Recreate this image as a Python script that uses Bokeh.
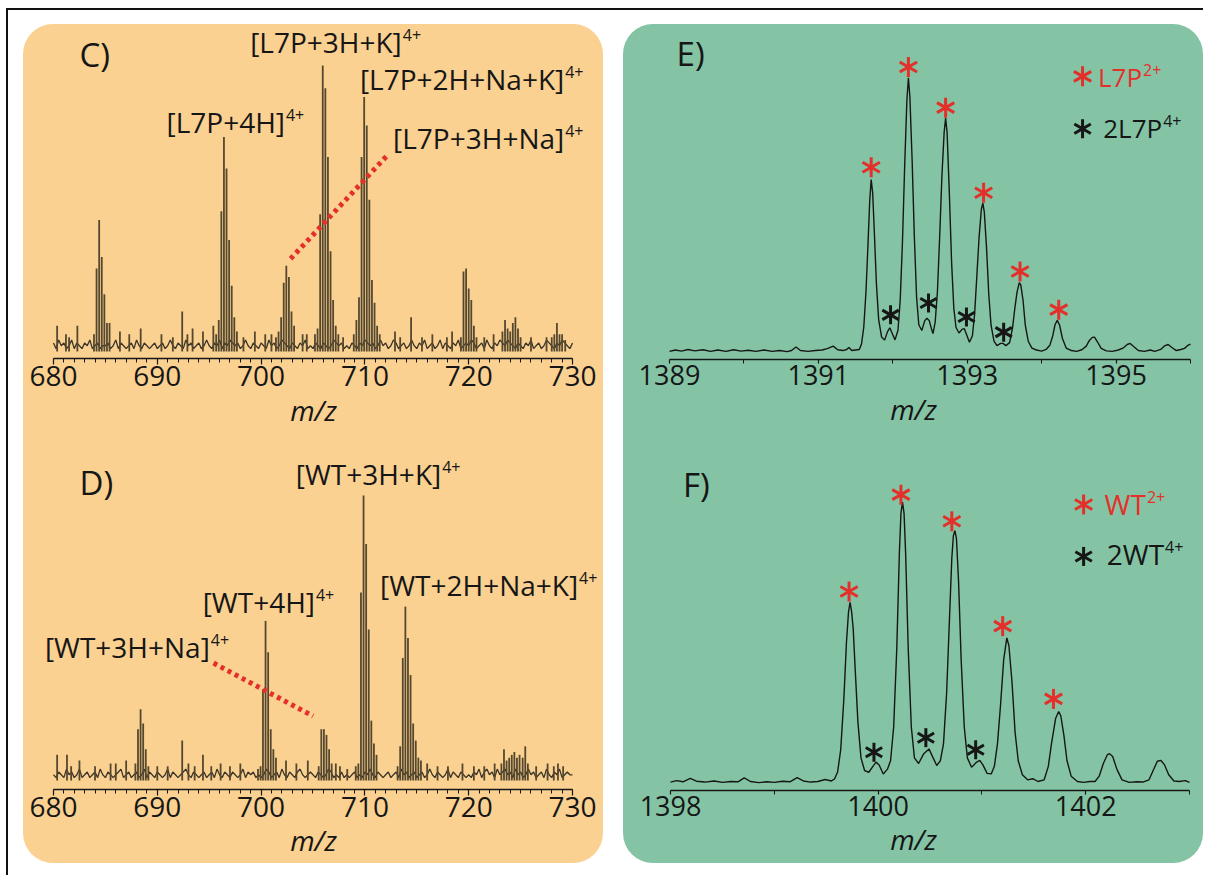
import numpy as np
from bokeh.plotting import figure
from bokeh.layouts import column, row
from bokeh.models import Spacer, Range1d, FixedTicker, Label
from bokeh.embed import file_html
from bokeh.resources import INLINE

# ---------------- data ----------------
# Panel C: [L7P] 4+ ions (stick peaks: m/z, relative intensity)
C_MZ = [683.90, 684.15, 684.40, 684.65, 684.90, 685.15, 685.40,
        695.67, 695.92, 696.17, 696.42, 696.67, 696.92, 697.17, 697.42, 697.67,
        701.43, 701.68, 701.93, 702.18, 702.43, 702.68, 702.93, 703.18,
        705.19, 705.44, 705.69, 705.94, 706.19, 706.44, 706.69, 706.94, 707.19, 707.44,
        708.93, 709.18, 709.43, 709.68, 709.93, 710.18, 710.43, 710.68, 710.93, 711.18, 711.43,
        719.25, 719.50, 719.75, 720.00, 720.25, 720.50, 720.75,
        723.25, 723.50, 723.75, 724.00, 724.25, 724.50, 724.75, 725.00,
        728.25, 728.50, 728.75, 729.00, 729.30,
        680.35, 681.20, 681.50, 682.30, 686.40, 687.30, 688.40, 690.40, 691.50, 692.40,
        692.90, 693.40, 694.40, 695.40, 698.30, 699.40, 700.40, 701.00, 704.00, 704.40,
        707.90, 712.90, 713.40, 714.45, 715.50, 716.50, 717.90, 718.40, 721.50, 722.40,
        726.00, 727.50, 728.00]
C_INT = [6, 29, 46, 33, 20, 10, 10,
         6, 11, 49, 75, 64, 39, 23, 12, 7,
         5, 7, 12, 24, 30, 26, 14, 9,
         6, 8, 48, 100, 92, 68, 35, 18, 9, 6,
         6, 11, 19, 68, 89, 79, 53, 25, 17, 9, 6,
         5, 28, 29, 22, 18, 9, 5,
         7, 11, 8, 7, 10, 12, 8, 5,
         6, 10, 6, 6, 4,
         9, 6, 5, 9, 7, 6, 8, 6, 5, 14,
         6, 8, 7, 9, 5, 7, 6, 6, 6, 6,
         5, 7, 5, 12, 5, 6, 5, 7, 5, 6,
         5, 5, 5]
C_NOISE = [3, 1, 4, 2, 3, 1, 2, 4, 1, 3, 2, 1, 3, 2, 4, 1, 2, 3, 1, 2,
           2, 3, 1, 2, 4, 1, 3, 2, 1, 2, 3, 1, 4, 2, 1, 3, 2, 1, 2, 3,
           1, 2, 3, 1, 2, 4, 2, 1, 3, 2, 1, 4, 2, 3, 1, 2, 3, 1, 2, 4,
           2, 1, 3, 2, 4, 1, 3, 2, 4, 3, 2, 3, 1, 2, 4, 2, 1, 3, 2, 1,
           3, 2, 1, 4, 2, 3, 1, 2, 4, 3, 2, 1, 3, 2, 1, 3, 2, 4, 1, 2,
           1, 3, 2, 1, 3, 2, 1, 2, 4, 3, 2, 3, 1, 2, 1, 3, 2, 1, 3, 2,
           4, 3, 2, 3, 1, 2, 4, 2, 3, 1, 2, 4, 3, 1, 2, 3, 1, 2, 4, 2,
           1, 3, 2, 4, 1, 2, 3, 1, 2, 4, 1, 3, 2, 1, 3, 2, 4, 1, 2, 3,
           2, 4, 3, 1, 2, 3, 1, 4, 2, 1, 3, 2, 4, 3, 2, 4, 3, 2, 1, 3,
           2, 1, 3, 2, 4, 1, 2, 3, 1, 2, 4, 3, 2, 1, 3, 2, 4, 3, 2, 1, 3]

# Panel D: [WT] 4+ ions
D_MZ = [687.89, 688.14, 688.39, 688.64, 688.89, 689.14,
        692.40,
        699.70, 699.95, 700.18, 700.43, 700.68, 700.93, 701.18, 701.43,
        705.55, 705.80, 706.05, 706.30, 706.55, 706.80,
        709.12, 709.37, 709.62, 709.87, 710.12, 710.37, 710.62, 710.87, 711.12,
        713.15, 713.40, 713.65, 713.90, 714.15, 714.40, 714.65, 714.90, 715.15, 715.40,
        723.15, 723.40, 723.65, 723.90, 724.15, 724.40, 724.65, 724.90, 725.20, 725.45, 725.70,
        726.50, 727.60, 728.20, 728.60, 729.10,
        680.35, 681.30, 681.70, 682.50, 684.00, 685.50, 686.00, 687.00, 690.00, 691.00,
        693.00, 693.60, 694.40, 695.20, 696.10, 697.00, 698.00, 702.40, 703.40, 704.50,
        707.20, 707.60, 708.30, 716.00, 717.00, 718.00, 719.40, 720.50, 721.50, 722.50]
D_INT = [6, 18, 25, 20, 11, 5,
         14,
         4, 5, 32, 56, 45, 18, 11, 8,
         5, 18, 18, 16, 11, 6,
         5, 6, 66, 100, 83, 53, 21, 13, 9,
         5, 12, 43, 61, 50, 37, 20, 14, 8, 7,
         6, 11, 7, 8, 9, 10, 8, 9, 8, 12, 6,
         5, 6, 5, 6, 5,
         9, 9, 5, 7, 5, 6, 6, 7, 5, 5,
         6, 5, 9, 5, 6, 5, 6, 7, 6, 7,
         6, 5, 4, 6, 5, 5, 6, 5, 5, 6]
D_NOISE = [2, 1, 3, 2, 1, 4, 2, 3, 1, 2, 4, 1, 2, 3, 1, 2, 3, 1, 4, 2,
           1, 3, 2, 1, 2, 3, 4, 1, 2, 3, 1, 2, 3, 1, 2, 4, 1, 3, 2, 1,
           3, 2, 1, 2, 4, 1, 3, 2, 1, 2, 3, 4, 2, 1, 3, 2, 1, 2, 3, 1,
           2, 3, 1, 4, 2, 1, 3, 2, 1, 3, 2, 1, 2, 4, 1, 3, 2, 3, 1, 2,
           1, 2, 4, 3, 1, 2, 3, 1, 4, 2, 1, 3, 2, 1, 3, 4, 2, 1, 2, 3,
           2, 1, 3, 2, 1, 2, 4, 3, 1, 2, 1, 3, 1, 2, 1, 2, 3, 1, 2, 1,
           3, 2, 4, 2, 1, 3, 2, 1, 2, 3, 1, 2, 3, 1, 4, 2, 3, 1, 2, 3,
           1, 2, 3, 1, 2, 4, 2, 1, 3, 2, 1, 2, 4, 1, 3, 2, 1, 3, 2, 1,
           2, 1, 3, 2, 4, 1, 3, 4, 2, 3, 1, 4, 2, 3, 4, 2, 3, 1, 4, 2,
           3, 1, 2, 4, 2, 3, 1, 2, 3, 1, 4, 2, 1, 3, 2, 4, 1, 2, 3, 2, 2]

# Panel E: L7P 2+ profile
E_MZ = [1389.00, 1389.08, 1389.16, 1389.25, 1389.34, 1389.45, 1389.55, 1389.65, 1389.76, 1389.86,
        1389.96, 1390.06, 1390.16, 1390.27, 1390.38, 1390.48, 1390.58, 1390.64, 1390.70, 1390.76,
        1390.86, 1390.96, 1391.05, 1391.12, 1391.20, 1391.26, 1391.33, 1391.38, 1391.41, 1391.45,
        1391.50, 1391.55,
        1391.58, 1391.61, 1391.64, 1391.665, 1391.69, 1391.71, 1391.73, 1391.755, 1391.78, 1391.81,
        1391.85, 1391.89, 1391.93, 1391.96, 1391.99, 1392.03,
        1392.07, 1392.10, 1392.13, 1392.16, 1392.19, 1392.21, 1392.23, 1392.26, 1392.29, 1392.32,
        1392.35, 1392.39, 1392.43, 1392.46, 1392.49, 1392.52, 1392.54,
        1392.57, 1392.60, 1392.63, 1392.66, 1392.69, 1392.71, 1392.73, 1392.76, 1392.79, 1392.82,
        1392.85, 1392.89, 1392.93, 1392.96, 1392.99, 1393.03,
        1393.07, 1393.10, 1393.13, 1393.16, 1393.19, 1393.21, 1393.23, 1393.26, 1393.29, 1393.32,
        1393.36, 1393.40, 1393.45, 1393.48, 1393.52,
        1393.57, 1393.61, 1393.64, 1393.67, 1393.70, 1393.72, 1393.75, 1393.78, 1393.82, 1393.87,
        1393.93, 1394.00, 1394.06,
        1394.11, 1394.15, 1394.18, 1394.21, 1394.24, 1394.28, 1394.33, 1394.40, 1394.47, 1394.54,
        1394.60, 1394.64, 1394.68, 1394.71, 1394.75, 1394.80, 1394.87, 1394.95, 1395.03,
        1395.10, 1395.15, 1395.19, 1395.24, 1395.30, 1395.38, 1395.46, 1395.52,
        1395.60, 1395.65, 1395.70, 1395.75, 1395.81, 1395.87, 1395.92, 1395.97, 1396.00]
E_INT = [0.3, 0.8, 0.4, 1.0, 0.5, 0.9, 0.3, 0.8, 0.3, 0.9,
         0.4, 0.7, 0.3, 0.8, 0.3, 0.6, 0.2, 0.6, 1.9, 0.6,
         0.3, 0.6, 0.8, 1.3, 2.2, 0.9, 0.6, 1.0, 1.7, 0.6,
         0.8, 1.0,
         3, 9, 22, 38, 55, 62.9, 58, 42, 25, 12,
         5.5, 4.4, 7.5, 8.9, 7, 4.5,
         8, 19, 40, 68, 92, 100, 93, 70, 42, 20,
         10, 7.9, 11.5, 12.4, 11.5, 8.5, 6.8,
         11, 22, 42, 64, 80, 85.3, 80, 58, 33, 16,
         9, 7, 8.3, 8.6, 6.5, 3.6,
         6, 14, 28, 42, 52, 54.3, 51, 38, 21, 10,
         4, 2.4, 3.2, 3.2, 2.4,
         3.5, 9, 16, 22, 25.3, 24.5, 19, 10, 4, 1.5,
         0.8, 0.4, 1.0,
         2.5, 6, 10, 11.6, 10, 5, 1.5, 0.6, 0.3, 0.9,
         2.2, 4.2, 5.4, 5.5, 3.8, 1.4, 0.5, 0.3, 0.8,
         1.6, 2.8, 3.2, 2.0, 0.6, 0.3, 0.8, 0.3,
         1.0, 2.3, 2.8, 1.7, 0.6, 1.0, 1.4, 2.6, 2.9]
E_RED_MZ = [1391.71, 1392.21, 1392.71, 1393.22, 1393.71, 1394.23]
E_RED_INT = [67.4, 103.9, 89.1, 58.1, 29.4, 15.5]
E_BLK_MZ = [1391.97, 1392.48, 1392.99, 1393.49]
E_BLK_INT = [13.6, 17.9, 12.8, 7.3]

# Panel F: WT 2+ profile
F_MZ = [1398.00, 1398.06, 1398.12, 1398.19, 1398.25, 1398.33, 1398.42, 1398.50, 1398.58, 1398.65,
        1398.71, 1398.77, 1398.85, 1398.93, 1399.00, 1399.08, 1399.15, 1399.22, 1399.28, 1399.35,
        1399.42, 1399.49, 1399.55, 1399.58,
        1399.61, 1399.64, 1399.67, 1399.695, 1399.715, 1399.73, 1399.745, 1399.76, 1399.78, 1399.805,
        1399.835, 1399.87, 1399.91, 1399.95, 1399.98, 1400.01, 1400.05, 1400.09,
        1400.12, 1400.15, 1400.18, 1400.205, 1400.22, 1400.235, 1400.25, 1400.265, 1400.29, 1400.32,
        1400.35, 1400.39, 1400.44, 1400.49, 1400.53, 1400.565, 1400.60,
        1400.63, 1400.66, 1400.685, 1400.71, 1400.725, 1400.74, 1400.755, 1400.775, 1400.80, 1400.83,
        1400.86, 1400.90, 1400.95, 1400.98, 1401.01, 1401.05, 1401.09,
        1401.12, 1401.15, 1401.18, 1401.21, 1401.24, 1401.26, 1401.29, 1401.32, 1401.35, 1401.39,
        1401.44, 1401.49, 1401.54,
        1401.60, 1401.64, 1401.67, 1401.71, 1401.74, 1401.76, 1401.79, 1401.82, 1401.86, 1401.92,
        1401.98, 1402.04,
        1402.09, 1402.13, 1402.17, 1402.21, 1402.23, 1402.26, 1402.30, 1402.35, 1402.42, 1402.49, 1402.55,
        1402.61, 1402.65, 1402.69, 1402.725, 1402.76, 1402.80, 1402.85, 1402.90, 1402.96, 1403.00]
F_INT = [0.4, 0.9, 0.5, 1.7, 0.7, 0.4, 0.8, 0.3, 0.6, 0.5,
         1.9, 0.6, 0.2, 0.5, 0.3, 0.7, 0.5, 2.0, 0.8, 0.4,
         0.6, 1.3, 0.8, 1.5,
         4, 12, 30, 50, 61, 64.4, 61, 55, 40, 22,
         9, 4.5, 3.9, 6, 7.5, 6.5, 3.3, 5,
         8, 20, 48, 82, 96, 100, 96, 82, 48, 20,
         9, 7, 10.5, 12.2, 9, 6.3, 8,
         14, 32, 56, 80, 88, 89.9, 87, 72, 44, 20,
         9, 5.7, 7.5, 8.1, 6.5, 3.5, 3.3,
         6, 14, 28, 44, 51.7, 49, 36, 18, 8, 3,
         1.2, 1.6, 0.6,
         1.2, 6, 14, 23, 25.5, 24, 17, 8, 2.5, 0.6,
         0.3, 0.6,
         0.6, 2.5, 7, 10.2, 10.5, 9.5, 5, 1.2, 0.3, 0.5, 0.4,
         1.2, 4.5, 7.8, 8.1, 6.5, 3, 0.8, 0.6, 0.9, 0.3]
F_RED_MZ = [1399.72, 1400.22, 1400.71, 1401.20, 1401.69]
F_RED_INT = [68.2, 102.7, 93.2, 55.9, 30.0]
F_BLK_MZ = [1399.96, 1400.46, 1400.94]
F_BLK_INT = [11.0, 16.2, 11.9]

C_TICKS = [680, 690, 700, 710, 720, 730]
E_TICKS = [1389, 1391, 1393, 1395]
E_MINOR = [1390, 1392, 1394, 1396]
F_TICKS = [1398, 1400, 1402]
F_MINOR = [1399, 1401, 1403]

C_IONS = ["[L7P+3H+K]", "[L7P+2H+Na+K]", "[L7P+4H]", "[L7P+3H+Na]"]
D_IONS = ["[WT+3H+K]", "[WT+4H]", "[WT+2H+Na+K]", "[WT+3H+Na]"]
X_TITLE = "m/z"

# ---------------- style ----------------
FONT = "Open Sans"
ORANGE = "#fad191"
GREEN = "#84c4a4"
RED = "#e3302a"
INK = "#161616"
STICK = "#55482f"


def mk_fig(xr, bounds, yr, w, h, bottom, tick_out, minor_out, label_size, title_standoff):
    p = figure(width=w, height=h, x_range=Range1d(*xr), y_range=Range1d(*yr),
               output_backend="svg", toolbar_location=None,
               min_border_left=0, min_border_right=0,
               min_border_top=0, min_border_bottom=bottom,
               background_fill_color=None, border_fill_color=None,
               outline_line_color=None)
    p.grid.visible = False
    p.yaxis.visible = False
    ax = p.xaxis[0]
    ax.bounds = bounds
    ax.axis_line_color = INK
    ax.axis_line_width = 1.6
    ax.major_tick_line_color = INK
    ax.minor_tick_line_color = INK
    ax.major_tick_line_width = 1.2
    ax.minor_tick_line_width = 1.0
    ax.major_tick_in = 0
    ax.minor_tick_in = 0
    ax.major_tick_out = tick_out
    ax.minor_tick_out = minor_out
    ax.major_label_text_font = FONT
    ax.major_label_text_color = INK
    ax.major_label_text_font_size = label_size
    ax.major_label_standoff = 1
    ax.axis_label = X_TITLE
    ax.axis_label_text_font = FONT
    ax.axis_label_text_font_style = "italic"
    ax.axis_label_text_font_size = "28px"
    ax.axis_label_text_color = INK
    ax.axis_label_standoff = title_standoff
    return p


def lab(p, x, y, text, size, color=INK, align="left", yoff=0, xoff=0):
    p.add_layout(Label(x=x, y=y, text=text, text_font=FONT,
                       text_font_size=f"{size}px", text_color=color,
                       text_align=align, text_baseline="middle",
                       x_offset=xoff, y_offset=yoff))


def ion(p, x, y, main, sup, color=INK, size=28, ssize=16):
    lab(p, x, y, main, size, color, "right")
    lab(p, x, y, sup, ssize, color, "left", yoff=7, xoff=1)


def asterisks(p, xs, ys, color, size, width):
    for ang in (np.pi / 2, np.pi / 6, -np.pi / 6):
        p.scatter(xs, ys, marker="dash", size=size, angle=ang,
                  line_color=color, line_width=width)


# ---------------- panel C ----------------
noise_x = np.arange(680, 730.001, 0.25)

pC = mk_fig((677.110, 732.987), (680, 730), (-2.45, 114.3), 580, 410, 76, 6, 4, "28px", 2)
pC.xaxis[0].ticker = FixedTicker(ticks=C_TICKS, minor_ticks=list(range(680, 731)))
pC.line(noise_x, C_NOISE, line_color="#3b3428", line_width=1.3)
pC.segment(x0=C_MZ, y0=[0] * len(C_MZ), x1=C_MZ, y1=C_INT, line_color=STICK, line_width=1.8)
pC.line([702.84, 712.07], [32.4, 68.2], line_color=RED, line_width=5, line_dash="4 4")
lab(pC, 682.5, 103.8, "C)", 33)
ion(pC, 713.55, 108.1, C_IONS[0], "4+")
ion(pC, 729.2, 95.2, C_IONS[1], "4+")
ion(pC, 702.3, 80.2, C_IONS[2], "4+")
ion(pC, 729.2, 74.7, C_IONS[3], "4+")

# ---------------- panel D ----------------
pD = mk_fig((677.110, 732.987), (680, 730), (-3.16, 121.4), 580, 429, 74, 6, 4, "28px", 1)
pD.xaxis[0].ticker = FixedTicker(ticks=C_TICKS, minor_ticks=list(range(680, 731)))
pD.line(noise_x, D_NOISE, line_color="#3b3428", line_width=1.3)
pD.segment(x0=D_MZ, y0=[0] * len(D_MZ), x1=D_MZ, y1=D_INT, line_color=STICK, line_width=1.8)
pD.line([695.42, 705.0], [41.2, 22.6], line_color=RED, line_width=5, line_dash="4 4")
lab(pD, 682.5, 104.7, "D)", 33)
ion(pD, 717.35, 107.6, D_IONS[0], "4+")
ion(pD, 705.19, 62.6, D_IONS[1], "4+")
ion(pD, 730.54, 68.6, D_IONS[2], "4+")
ion(pD, 695.06, 46.8, D_IONS[3], "4+")

# ---------------- panel E ----------------
pE = mk_fig((1388.382, 1396.175), (1389, 1396), (-2.66, 119.4), 580, 410, 75, 4, 4, "27px", 2)
pE.xaxis[0].ticker = FixedTicker(ticks=E_TICKS, minor_ticks=E_MINOR)
pE.line(E_MZ, E_INT, line_color=INK, line_width=1.4)
asterisks(pE, E_RED_MZ, E_RED_INT, RED, 20, 3)
asterisks(pE, E_BLK_MZ, E_BLK_INT, INK, 19, 3)
asterisks(pE, [1394.55], [100.5], RED, 20, 3)
asterisks(pE, [1394.55], [81.4], INK, 19, 3)
lab(pE, 1389.095, 108.7, "E)", 33)
ion(pE, 1395.35, 100.4, "L7P", "2+", RED, 26, 16)
ion(pE, 1395.62, 81.6, "2L7P", "4+", INK, 26, 16)

# ---------------- panel F ----------------
pF = mk_fig((1397.547, 1403.135), (1398, 1403), (-2.6, 124.1), 580, 429, 73, 4, 4, "27px", 1)
pF.xaxis[0].ticker = FixedTicker(ticks=F_TICKS, minor_ticks=F_MINOR)
pF.line(F_MZ, F_INT, line_color=INK, line_width=1.4)
asterisks(pF, F_RED_MZ, F_RED_INT, RED, 20, 3)
asterisks(pF, F_BLK_MZ, F_BLK_INT, INK, 19, 3)
asterisks(pF, [1401.98], [99.2], RED, 20, 3)
asterisks(pF, [1401.98], [80.7], INK, 19, 3)
lab(pF, 1398.12, 106.3, "F)", 33)
ion(pF, 1402.58, 99.2, "WT", "2+", RED, 28, 16)
ion(pF, 1402.755, 81.4, "2WT", "4+", INK, 28, 16)

# ---------------- layout ----------------
left = column(pC, pD, styles={"background-color": ORANGE, "border-radius": "30px"})
right = column(pE, pF, styles={"background-color": GREEN, "border-radius": "30px"})
body = row(Spacer(width=15), left, Spacer(width=20), right)
framed = column(Spacer(height=14), body, Spacer(height=12),
                styles={"border-left": "2px solid #111", "border-top": "2px solid #111"})
page = row(Spacer(width=6), column(Spacer(height=8), framed))

open("out.html", "w").write(file_html(page, INLINE))
